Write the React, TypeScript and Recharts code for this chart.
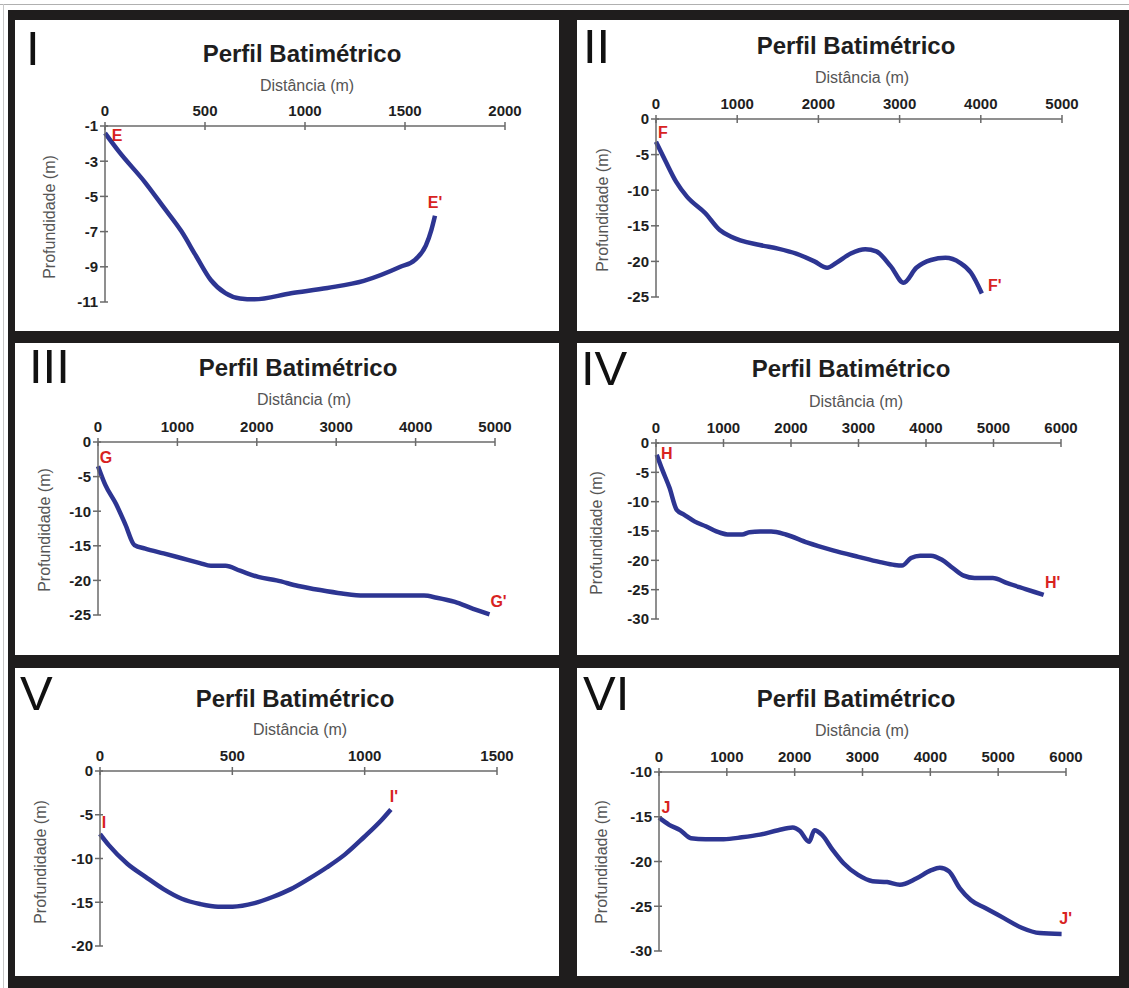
import { LineChart, Line, XAxis, YAxis, ReferenceDot } from "recharts";

// Perfil I (E - E')
const distI = [0, 73, 200, 292, 383, 456, 529, 602, 675, 747, 930, 1112, 1294, 1477, 1550, 1604, 1632, 1650];
const depthI = [-1.4, -2.5, -4.2, -5.6, -7.0, -8.4, -9.75, -10.5, -10.8, -10.85, -10.5, -10.2, -9.8, -9.0, -8.6, -7.8, -6.9, -6.1];
const xTicksI = [0, 500, 1000, 1500, 2000];
const yTicksI = [-1, -3, -5, -7, -9, -11];

// Perfil II (F - F')
const distII = [0, 112, 247, 381, 605, 785, 919, 1278, 1502, 1726, 1951, 2108, 2220, 2399, 2578, 2713, 2892, 3049, 3206, 3386, 3565, 3744, 3879, 4013];
const depthII = [-3.2, -5.8, -8.8, -10.9, -13.2, -15.6, -16.5, -17.7, -18.2, -18.9, -20.0, -20.9, -20.2, -18.9, -18.3, -18.6, -20.7, -23.0, -20.9, -19.8, -19.5, -20.2, -21.6, -24.5];
const xTicksII = [0, 1000, 2000, 3000, 4000, 5000];
const yTicksII = [0, -5, -10, -15, -20, -25];

// Perfil III (G - G')
const distIII = [0, 92, 229, 344, 459, 596, 826, 1055, 1284, 1422, 1606, 1789, 2018, 2248, 2523, 2798, 3073, 3349, 3807, 4106, 4266, 4495, 4725, 4931];
const depthIII = [-3.5, -6.2, -9.0, -11.9, -14.9, -15.4, -16.1, -16.8, -17.5, -17.9, -17.9, -18.6, -19.5, -20.0, -20.8, -21.4, -21.9, -22.2, -22.2, -22.2, -22.5, -23.1, -24.1, -24.9];
const xTicksIII = [0, 1000, 2000, 3000, 4000, 5000];
const yTicksIII = [0, -5, -10, -15, -20, -25];

// Perfil IV (H - H')
const distIV = [11, 91, 199, 307, 414, 576, 737, 953, 1060, 1276, 1383, 1545, 1706, 1922, 2244, 2621, 2998, 3321, 3536, 3644, 3778, 3913, 4074, 4236, 4397, 4559, 4720, 4989, 5205, 5474, 5743];
const depthIV = [-2.0, -4.5, -7.6, -11.4, -12.2, -13.4, -14.2, -15.3, -15.6, -15.6, -15.2, -15.1, -15.1, -15.6, -17.0, -18.3, -19.4, -20.3, -20.8, -20.9, -19.6, -19.2, -19.2, -19.9, -21.3, -22.6, -23.0, -23.0, -23.9, -24.9, -25.9];
const xTicksIV = [0, 1000, 2000, 3000, 4000, 5000, 6000];
const yTicksIV = [0, -5, -10, -15, -20, -25, -30];

// Perfil V (I - I')
const distV = [0, 34, 103, 172, 240, 309, 378, 446, 501, 584, 652, 721, 790, 858, 927, 996, 1064, 1099];
const depthV = [-7.2, -8.5, -10.6, -12.1, -13.5, -14.6, -15.2, -15.5, -15.5, -15.1, -14.4, -13.5, -12.3, -11.0, -9.5, -7.6, -5.6, -4.4];
const xTicksV = [0, 500, 1000, 1500];
const yTicksV = [0, -5, -10, -15, -20];

// Perfil VI (J - J')
const distVI = [0, 150, 311, 471, 686, 953, 1221, 1489, 1757, 1971, 2078, 2212, 2292, 2400, 2560, 2721, 2935, 3149, 3363, 3551, 3792, 4006, 4140, 4274, 4435, 4596, 4810, 5078, 5346, 5613, 5935];
const depthVI = [-15.1, -15.9, -16.5, -17.4, -17.5, -17.5, -17.3, -17.0, -16.5, -16.2, -16.6, -17.8, -16.5, -17.0, -18.7, -20.2, -21.5, -22.2, -22.3, -22.6, -21.9, -21.0, -20.7, -21.1, -23.0, -24.3, -25.2, -26.3, -27.4, -28.0, -28.1];
const xTicksVI = [0, 1000, 2000, 3000, 4000, 5000, 6000];
const yTicksVI = [-10, -15, -20, -25, -30];

const numerals = ["I", "II", "III", "IV", "V", "VI"];
const startNames = ["E", "F", "G", "H", "I", "J"];
const endNames = ["E'", "F'", "G'", "H'", "I'", "J'"];
const TITLE = "Perfil Batimétrico";
const X_LABEL = "Distância (m)";
const Y_LABEL = "Profundidade (m)";

const series = [
  { dist: distI, depth: depthI, xTicks: xTicksI, yTicks: yTicksI },
  { dist: distII, depth: depthII, xTicks: xTicksII, yTicks: yTicksII },
  { dist: distIII, depth: depthIII, xTicks: xTicksIII, yTicks: yTicksIII },
  { dist: distIV, depth: depthIV, xTicks: xTicksIV, yTicks: yTicksIV },
  { dist: distV, depth: depthV, xTicks: xTicksV, yTicks: yTicksV },
  { dist: distVI, depth: depthVI, xTicks: xTicksVI, yTicks: yTicksVI },
];

// page positions (px) of each panel: white box, plot area, text centres
const layouts = [
  { box: [15, 20, 544, 311], plot: [105, 126, 400, 176], title: [302, 53], xl: [307, 85], yl: [49, 217], num: [30, 30], so: [12, 2], eo: [0, -14] },
  { box: [577, 20, 542, 311], plot: [656, 119, 406, 178], title: [856, 45], xl: [862, 77], yl: [602, 210], num: [587, 28], so: [7, -10], eo: [13, -8] },
  { box: [15, 343, 544, 312], plot: [98, 442, 397, 173], title: [298, 367], xl: [304, 399], yl: [44, 530], num: [33, 348], so: [8, -9], eo: [9, -13] },
  { box: [577, 343, 542, 312], plot: [656, 443, 405, 176], title: [851, 368], xl: [856, 401], yl: [596, 533], num: [585, 350], so: [10, -2], eo: [9, -13] },
  { box: [15, 668, 544, 308], plot: [100, 771, 397, 175], title: [295, 698], xl: [300, 729], yl: [40, 862], num: [24, 675], so: [4, -12], eo: [3, -13] },
  { box: [577, 668, 542, 308], plot: [659, 772, 407, 179], title: [856, 698], xl: [862, 730], yl: [601, 862], num: [587, 675], so: [7, -10], eo: [4, -16] },
];

const FONT = "'Liberation Sans', Arial, sans-serif";
const AXIS_COLOR = "#6a6a6a";
const LINE_COLOR = "#2d3592";
const RED = "#d8231f";
const AXIS_X = 60;
const AXIS_Y = 40;

const XTick = (props: any) => {
  const { x, payload } = props;
  return (
    <g>
      <line x1={x} x2={x} y1={AXIS_Y - 4} y2={AXIS_Y + 4} stroke={AXIS_COLOR} strokeWidth={1.5} />
      <text x={x} y={AXIS_Y - 10} textAnchor="middle" fontSize={15} fontWeight="bold" fill="#1e1e1e" fontFamily={FONT}>
        {payload.value}
      </text>
    </g>
  );
};

const YTick = (props: any) => {
  const { y, payload } = props;
  return (
    <g>
      <line x1={AXIS_X - 5} x2={AXIS_X + 3} y1={y} y2={y} stroke={AXIS_COLOR} strokeWidth={1.5} />
      <text x={AXIS_X - 7} y={y + 5.3} textAnchor="end" fontSize={15} fontWeight="bold" fill="#1e1e1e" fontFamily={FONT}>
        {payload.value}
      </text>
    </g>
  );
};

const endLabel = (text: string, dx: number, dy: number) => (p: any) => (
  <text x={p.cx + dx} y={p.cy + dy + 5.8} textAnchor="middle" fontSize={16} fontWeight="bold" fill={RED} fontFamily={FONT}>
    {text}
  </text>
);

const Profile = ({ i }: { i: number }) => {
  const s = series[i];
  const l = layouts[i];
  const [pl, pt, pw, ph] = l.plot;
  const data = s.dist.map((d, k) => ({ d, z: s.depth[k] }));
  const last = data.length - 1;
  const yMin = Math.min(...s.yTicks);
  const yMax = Math.max(...s.yTicks);
  return (
    <div style={{ position: "absolute", left: pl - AXIS_X, top: pt - AXIS_Y }}>
      <LineChart width={pw + 80} height={ph + 50} data={data} margin={{ top: 10, right: 20, bottom: 10, left: 10 }}>
        <XAxis
          dataKey="d"
          type="number"
          orientation="top"
          domain={[s.xTicks[0], s.xTicks[s.xTicks.length - 1]]}
          ticks={s.xTicks}
          interval={0}
          height={30}
          tickLine={false}
          axisLine={{ stroke: AXIS_COLOR, strokeWidth: 1.5 }}
          tick={<XTick />}
        />
        <YAxis
          type="number"
          domain={[yMin, yMax]}
          ticks={s.yTicks}
          interval={0}
          width={50}
          tickLine={false}
          axisLine={{ stroke: AXIS_COLOR, strokeWidth: 1.5 }}
          tick={<YTick />}
        />
        <Line
          type="monotone"
          dataKey="z"
          stroke={LINE_COLOR}
          strokeWidth={4.5}
          dot={false}
          isAnimationActive={false}
        />
        <ReferenceDot x={data[0].d} y={data[0].z} r={0} shape={endLabel(startNames[i], l.so[0], l.so[1])} />
        <ReferenceDot x={data[last].d} y={data[last].z} r={0} shape={endLabel(endNames[i], l.eo[0], l.eo[1])} />
      </LineChart>
    </div>
  );
};

const App = () => {
  return (
    <div style={{ position: "absolute", left: 0, top: 0, width: 1129, height: 988, background: "#ffffff", overflow: "hidden", fontFamily: FONT }}>
      <div style={{ position: "absolute", left: 0, top: 4, width: 1129, height: 1, background: "#b0b0b0" }} />
      <div style={{ position: "absolute", left: 3, top: 4, width: 1, height: 984, background: "#c8c8c8" }} />
      <div style={{ position: "absolute", left: 8, top: 10, width: 1121, height: 978, background: "#1f1d1d" }} />
      {layouts.map((l, i) => (
        <div
          key={"box" + i}
          style={{ position: "absolute", left: l.box[0], top: l.box[1], width: l.box[2], height: l.box[3], background: "#ffffff" }}
        />
      ))}
      {layouts.map((_, i) => (
        <Profile key={"p" + i} i={i} />
      ))}
      <svg width={1129} height={988} style={{ position: "absolute", left: 0, top: 0, pointerEvents: "none" }}>
        {layouts.map((l, i) => (
          <g key={"t" + i} fontFamily={FONT}>
            <text x={l.num[0] - 4} y={l.num[1] + 35} fontSize={49} fill="#111">
              {numerals[i]}
            </text>
            <text x={l.title[0]} y={l.title[1] + 8.5} textAnchor="middle" fontSize={24} fontWeight="bold" fill="#1e1e1e">
              {TITLE}
            </text>
            <text x={l.xl[0]} y={l.xl[1] + 5.7} textAnchor="middle" fontSize={16} fill="#555">
              {X_LABEL}
            </text>
            <text
              x={l.yl[0] + 5.7}
              y={l.yl[1]}
              textAnchor="middle"
              fontSize={16}
              fill="#555"
              transform={`rotate(-90, ${l.yl[0] + 5.7}, ${l.yl[1]})`}
            >
              {Y_LABEL}
            </text>
          </g>
        ))}
      </svg>
    </div>
  );
};

export default App;
